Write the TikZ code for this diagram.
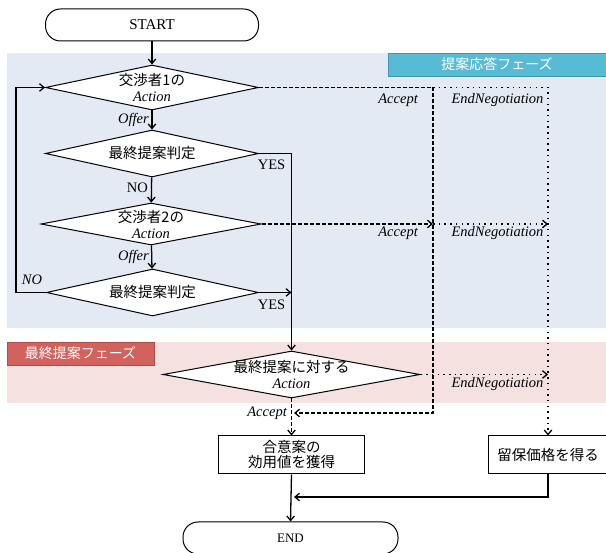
\documentclass[tikz,border=0pt]{standalone}
\usepackage{fontspec}
\setmainfont{Liberation Serif}
\newfontfamily\jp{Noto Sans CJK JP}
\usetikzlibrary{arrows.meta,shapes.geometric}
\definecolor{blueband}{HTML}{E3EAF4}
\definecolor{pinkband}{HTML}{F6E1E1}
\definecolor{bluelab}{HTML}{58BBD4}
\definecolor{bluelabd}{HTML}{4596AC}
\definecolor{pinklab}{HTML}{D2625E}
\definecolor{pinklabd}{HTML}{B54B48}
\begin{document}
\begin{tikzpicture}[x=1pt,y=-1pt,
  dia/.style={diamond, draw, fill=white, line width=1pt, inner sep=0pt, aspect=4},
  term/.style={rectangle, rounded corners=15pt, draw, fill=white, line width=1pt, minimum width=213pt, minimum height=32pt},
  proc/.style={rectangle, draw, fill=white, line width=1pt, minimum height=38pt, inner sep=0pt},
  conn/.style={line width=1.3pt, -{Straight Barb[length=4.5pt,width=7.5pt]}},
  plain/.style={line width=1.3pt},
  dsh/.style={dash pattern=on 4pt off 2pt},
  dtt/.style={dash pattern=on 1.5pt off 4.2pt},
  lab/.style={font=\fontsize{14.5}{16}\selectfont\itshape, inner sep=0pt},
  ulab/.style={font=\fontsize{14.5}{16}\selectfont, inner sep=0pt},
  txt/.style={align=center, font=\fontsize{14.5}{16}\selectfont, inner sep=0pt},
  phase/.style={draw, line width=0.8pt, text=white, font=\jp\fontsize{14}{16}\selectfont, inner sep=0pt}
]
\useasboundingbox (0,0) rectangle (606,553);
% bands
\fill[blueband] (7,53) rectangle (606,328);
\fill[pinkband] (7,342) rectangle (606,403);
\node[phase, fill=bluelab, draw=bluelabd, minimum width=218pt, minimum height=23pt] (ph1) at (497,64.5) {提案応答フェーズ};
\node[phase, fill=pinklab, draw=pinklabd, minimum width=147pt, minimum height=23pt] (ph2) at (80.5,353.5) {最終提案フェーズ};

% nodes
\node[term, font=\fontsize{15}{16}\selectfont] (start) at (152,25) {START};
\node[dia, minimum width=213pt, minimum height=45pt] (d1) at (152,87.5) {};
\node[txt] (d1t) at (d1) {{\jp 交渉者1の}\\\itshape Action};
\node[dia, minimum width=213pt, minimum height=47pt] (d2) at (152,153.5) {};
\node[txt, font=\jp\fontsize{14.5}{16}\selectfont] (d2t) at (d2) {最終提案判定};
\node[dia, minimum width=220pt, minimum height=42pt] (d3) at (151,224) {};
\node[txt] (d3t) at (d3) {{\jp 交渉者2の}\\\itshape Action};
\node[dia, minimum width=212pt, minimum height=47pt] (d4) at (152.5,292.5) {};
\node[txt, font=\jp\fontsize{14.5}{16}\selectfont] (d4t) at (d4) {最終提案判定};
\node[dia, minimum width=257pt, minimum height=47pt] (fd) at (291.5,374.5) {};
\node[txt] (fdt) at (fd) {{\jp 最終提案に対する}\\\itshape Action};
\node[proc, minimum width=146pt, font=\jp\fontsize{14.5}{15}\selectfont, align=center] (r1) at (291.5,455) {合意案の\\効用値を獲得};
\node[proc, minimum width=120pt, font=\jp\fontsize{14.5}{15}\selectfont] (r2) at (548,455) {留保価格を得る};
\node[term, minimum width=215pt, font=\fontsize{13}{15}\selectfont] (end) at (290.5,538) {END};

% coordinates
\coordinate (c1) at (291.5,153.5);
\coordinate (j1) at (291.5,292.5);
\coordinate (l1) at (16,292.5);
\coordinate (l2) at (16,87.5);
\coordinate (a1) at (433,87.5);
\coordinate (a2) at (433,224);
\coordinate (a3) at (433,413);
\coordinate (a4) at (294,413);
\coordinate (e1) at (548,87.5);
\coordinate (e2) at (548,224);
\coordinate (e3) at (548,374.5);
\coordinate (b1) at (548,497);
\coordinate (b2) at (294,497);

% connectors
\draw[conn] (start) -- (d1);
\draw[conn] (d1) -- (d2);
\draw[conn] (d2) -- (d3);
\draw[conn] (d3) -- (d4);
\draw[conn] (d2.east) -- (c1) -- (fd.north);
\draw[conn] (d4.east) -- (j1);
\draw[conn] (d4.west) -- (l1) -- (l2) -- (d1.west);
\draw[plain, dsh] (d1.east) -- (a1);
\draw[conn, dsh] (a1) -- (a3) -- (a4);
\draw[conn, dtt] (a1) -- (e1) -- (r2.north);
\draw[conn, dsh] (d3.east) -- (a2);
\draw[conn, dtt] (a2) -- (e2);
\draw[conn, dtt] (fd.east) -- (e3);
\draw[conn, dsh] (fd.south) -- (r1.north);
\draw[conn] (r1.south) -- (end.north);
\draw[conn] (r2.south) -- (b1) -- (b2);

% labels
\node[lab, anchor=east] (lo1) at (149,120) {Offer};
\node[ulab, anchor=east] (ln1) at (148,188) {NO};
\node[lab, anchor=east] (lo2) at (149,257) {Offer};
\node[lab] (ln2) at (32,280) {NO};
\node[ulab] (ly1) at (271.5,165) {YES};
\node[ulab] (ly2) at (271.5,305) {YES};
\node[lab, anchor=east] (la1) at (418,100) {Accept};
\node[lab] (le1) at (497.5,100) {EndNegotiation};
\node[lab, anchor=east] (la2) at (418,233) {Accept};
\node[lab] (le2) at (497.5,233) {EndNegotiation};
\node[lab] (le3) at (497.5,384) {EndNegotiation};
\node[lab, anchor=east] (la3) at (287,413) {Accept};
\end{tikzpicture}
\end{document}
